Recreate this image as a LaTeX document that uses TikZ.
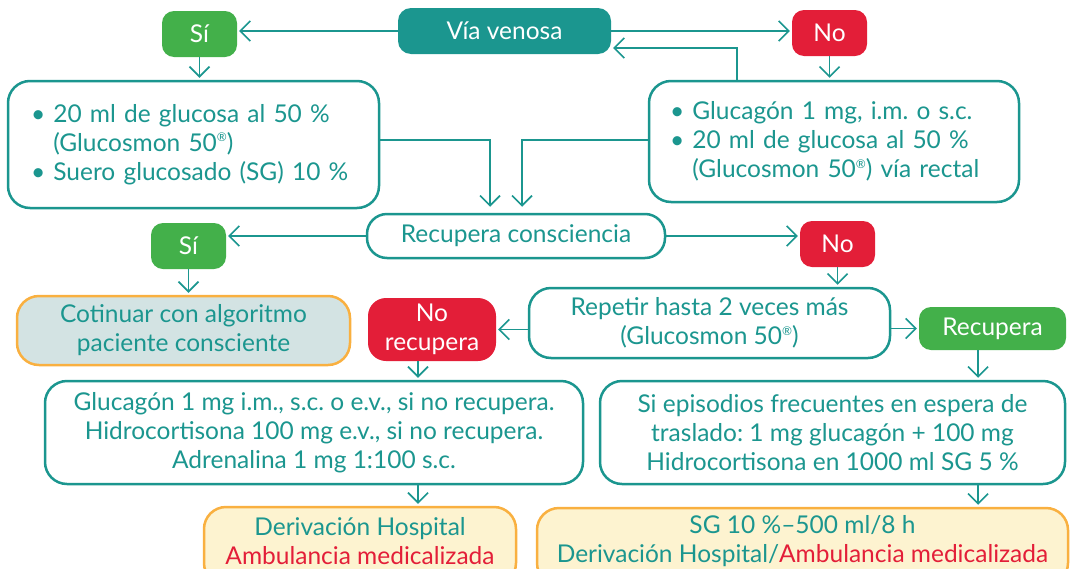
\documentclass[tikz,border=0pt]{standalone}
\usepackage{fontspec}
\setmainfont{Lato}
\usetikzlibrary{arrows.meta}

\definecolor{vteal}{RGB}{27,150,143}
\definecolor{vgreen}{RGB}{67,176,74}
\definecolor{vred}{RGB}{227,30,56}
\definecolor{vorange}{RGB}{249,176,64}
\definecolor{vyellow}{RGB}{253,243,208}
\definecolor{vgrey}{RGB}{211,227,227}

\newcommand{\blt}{\textbullet\ }
\newcommand{\regd}{\raisebox{0.75ex}{\fontsize{12}{12}\selectfont ®}}

\begin{document}
\frenchspacing
\begin{tikzpicture}[x=1pt,y=-1pt,
  every node/.style={font=\fontsize{24.5}{29}\selectfont, inner sep=0pt, align=center},
  tealbox/.style={fill=vteal, text=white, rounded corners=13pt},
  sibox/.style={fill=vgreen, text=white, rounded corners=12pt, minimum width=75pt, minimum height=46pt},
  nobox/.style={fill=vred, text=white, rounded corners=12pt, minimum width=75pt, minimum height=46pt},
  linebox/.style={draw=vteal, line width=2.5pt, fill=white, text=vteal, rounded corners=22pt},
  endbox/.style={draw=vorange, line width=2.5pt, fill=vyellow, text=vteal, rounded corners=22pt},
  arr/.style={draw=vteal, line width=1.6pt, -{Straight Barb[length=10pt,width=20pt]}, shorten >=2pt}]
\useasboundingbox (0,0) rectangle (1076,568);

%% row 1 %%
% Text Node: via
\node (via) at (504.5,31) [tealbox, minimum width=213pt, minimum height=46pt] {Vía venosa};
% Text Node: si1
\node (si1) at (199.5,34) [sibox] {Sí};
% Text Node: no1
\node (no1) at (829.5,33) [nobox] {No};

%% treatment boxes %%
\node (lbox) at (193.5,144.5) [linebox, minimum height=127pt, text width=325pt, inner xsep=23pt, align=left]
  {\blt 20 ml de glucosa al 50 \%\\\phantom{\blt}(Glucosmon 50\regd)\\\blt Suero glucosado (SG) 10 \%};
\node (gbox) at (834,141.5) [linebox, minimum height=121pt, text width=328pt, inner xsep=21pt, align=left]
  {\blt Glucagón 1 mg, i.m. o s.c.\\\blt 20 ml de glucosa al 50 \%\\\phantom{\blt}(Glucosmon 50\regd) vía rectal};

%% row 2 %%
\node (rc) at (516,236) [linebox, rounded corners=20pt, minimum width=298pt, minimum height=44pt] {Recupera consciencia};
\node (si2) at (188.5,246) [sibox] {Sí};
\node (no2) at (837.5,244) [nobox] {No};

%% row 3 %%
\node (cont) at (183.5,330.5) [endbox, fill=vgrey, minimum width=333pt, minimum height=69pt] {Cotinuar con algoritmo\\paciente consciente};
\node (rep) at (709.5,323) [linebox, minimum width=361pt, minimum height=70pt] {Repetir hasta 2 veces más\\(Glucosmon 50\regd)};
\node (norec) at (432,329.5) [nobox, minimum width=128pt, minimum height=63pt, rounded corners=18pt] {No\\recupera};
\node (rec) at (992.5,328.5) [sibox, minimum width=147pt, minimum height=43pt] {Recupera};

%% row 4 %%
\node (g2) at (314,432.5) [linebox, minimum width=538pt, minimum height=103pt]
  {Glucagón 1 mg i.m., s.c. o e.v., si no recupera.\\Hidrocortisona 100 mg e.v., si no recupera.\\Adrenalina 1 mg 1:100 s.c.};
\node (sie) at (832.5,432.5) [linebox, minimum width=465pt, minimum height=103pt]
  {Si episodios frecuentes en espera de\\traslado: 1 mg glucagón + 100 mg\\Hidrocortisona en 1000 ml SG 5 \%};

%% bottom %%
\node (der) at (360,546) [endbox, minimum width=312pt, minimum height=78pt] {};
\node (dertxt) at (360,541) [text=vteal] {Derivación Hospital\\\textcolor{vred}{Ambulancia medicalizada}};
\node (sg) at (802.5,546.5) [endbox, minimum width=531pt, minimum height=77pt] {};
\node (sgtxt) at (802.5,541) [text=vteal] {SG 10 \%--500 ml/8 h\\Derivación Hospital/\textcolor{vred}{Ambulancia medicalizada}};

\coordinate (c1) at (418,0);
\coordinate (c2) at (978,0);
\coordinate (ret) at (737,48);

%Straight Lines
\draw [arr] (via.west) -- (si1.east |- via.west);
\draw [arr] (via.east) -- (no1.west |- via.east);
\draw [arr] (si1.south) -- (si1.south |- lbox.north);
\draw [arr] (no1.south) -- (no1.south |- gbox.north);
\draw [arr] (ret |- gbox.north) |- (via.east |- ret);
\draw [arr, shorten >=6pt] ([yshift=4.5pt]lbox.east) -| ([xshift=-26pt]rc.north);
\draw [arr, shorten >=6pt] ([yshift=1.5pt]gbox.west) -| ([xshift=6pt]rc.north);
\draw [arr] (rc.west) -- (si2.east |- rc.west);
\draw [arr] (rc.east) -- (no2.west |- rc.east);
\draw [arr] (si2.south) -- (si2.south |- cont.north);
\draw [arr] (no2.south) -- (no2.south |- rep.north);
\draw [arr] (rep.west |- norec) -- (norec.east);
\draw [arr] (rep.east |- rec) -- (rec.west);
\draw [arr] (norec.south -| c1) -- (g2.north -| c1);
\draw [arr] (g2.south -| c1) -- (der.north -| c1);
\draw [arr] (rec.south -| c2) -- (sie.north -| c2);
\draw [arr] (sie.south -| c2) -- (sg.north -| c2);

\end{tikzpicture}
\end{document}
